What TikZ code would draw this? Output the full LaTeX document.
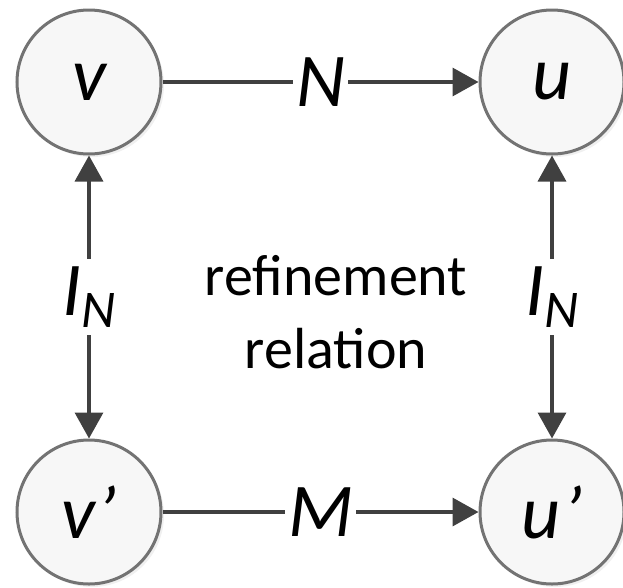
\documentclass[tikz,border=0pt]{standalone}
\usepackage{fontspec}
\setmainfont{Carlito}
\usetikzlibrary{arrows.meta,positioning,shadows}
\tikzset{
  state/.style    = {circle, draw=black!55, line width=3pt, fill=black!3, minimum size=144pt, inner sep=0pt,
                     font=\fontsize{76}{80}\selectfont\itshape,
                     drop shadow={opacity=0.12, shadow xshift=3pt, shadow yshift=-3pt}},
  wire/.style     = {draw=black!75, line width=3.5pt, -{Triangle[length=26pt,width=28pt]}},
  biwire/.style   = {wire, {Triangle[length=26pt,width=28pt]}-{Triangle[length=26pt,width=28pt]}},
  edgelabel/.style = {fill=white, inner sep=3pt, font=\fontsize{76}{80}\selectfont\itshape},
  note/.style     = {align=center, font=\fontsize{58}{73}\selectfont}
}
\newcommand{\subN}{I\raisebox{-12pt}{\fontsize{53}{60}\selectfont N}}
\newcommand{\pr}{\kern2pt\char"0027}

\begin{document}
\begin{tikzpicture}[x=1pt, y=-1pt]
    \useasboundingbox (0,0) rectangle (623,587);
    % States
    \node[state] (v)  at (89,82)   {v};
    \node[state] (u)  at (552,82)  {u};
    \node[state] (vp) at (89,512)  {v\pr};
    \node[state] (up) at (552,512) {u\pr};
    % Transitions
    \draw[wire] (v) -- node[edgelabel] {N} (u);
    \draw[wire] (vp) -- node[edgelabel] {M} (up);
    % Refinement links
    \draw[biwire] (v) -- node[edgelabel, inner sep=8pt] {\subN} (vp);
    \draw[biwire] (u) -- node[edgelabel, inner sep=8pt] {\subN} (up);
    % Middle text
    \node[note] (rel) at (336,312) {refinement\\relation};
\end{tikzpicture}
\end{document}
